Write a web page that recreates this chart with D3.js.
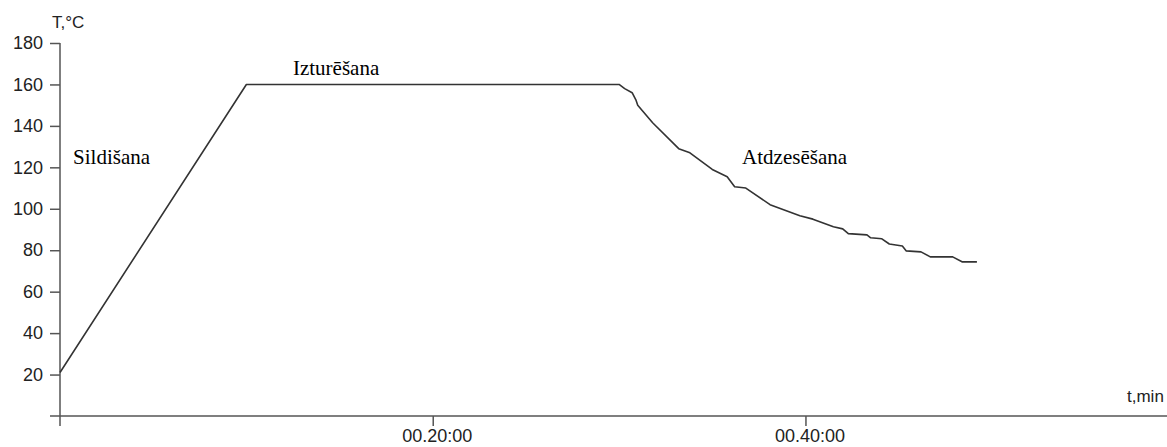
<!DOCTYPE html>
<html>
<head>
<meta charset="utf-8">
<script src="https://cdn.jsdelivr.net/npm/d3@7"></script>
<style>
  body { margin: 0; background: #fff; }
  svg { display: block; }
</style>
</head>
<body>
<div id="chart"></div>
<script>
// time in minutes, temperature in °C
var timeMin = [0, 10, 30, 30.3, 30.7, 30.9, 31.0, 31.8, 33.2, 33.8, 35.0, 35.8, 36.2, 36.8, 38.1,
               39.7, 40.4, 41.5, 42.0, 42.3, 43.3, 43.5, 44.1, 44.5, 45.2, 45.4, 46.2, 46.7, 47.9, 48.4, 49.2];
var tempC   = [21, 160, 160, 158, 156, 152.6, 150, 141.5, 129, 127, 119, 115.5, 110.6, 110, 102,
               96.6, 95, 91.3, 90.3, 88, 87.4, 86, 85.5, 83, 82, 79.7, 79.2, 76.8, 76.8, 74.4, 74.4];

var yTicks = [20, 40, 60, 80, 100, 120, 140, 160, 180];
var xTicks = [20, 40];
var xTickLabels = ["00.20:00", "00.40:00"];

var phaseNames = ["Sildišana", "Izturēšana", "Atdzesēšana"];
var phaseAt = [[0.7, 121.5], [12.5, 164.5], [36.6, 121.5]]; // [min, °C] anchor of each label

var width = 1167, height = 447;
var margin = {top: 43, right: 0, bottom: 31, left: 60};

var svg = d3.select("#chart").append("svg")
    .attr("width", width)
    .attr("height", height);

var x = d3.scaleLinear()
    .domain([0, 59.4])
    .range([margin.left, width - margin.right]);

var y = d3.scaleLinear()
    .domain([0, 180])
    .range([height - margin.bottom, margin.top]);

var axisColor = "#555";

// y axis
var yAxis = svg.append("g")
    .attr("transform", "translate(" + margin.left + ",0)")
    .call(d3.axisLeft(y).tickValues(yTicks).tickSize(10).tickPadding(7).tickSizeOuter(0));
yAxis.select(".domain").remove();
yAxis.append("line")
    .attr("x1", 0).attr("x2", 0)
    .attr("y1", y(180)).attr("y2", y(0) + 10)
    .attr("stroke", axisColor).attr("stroke-width", 1.5);
yAxis.selectAll(".tick line").attr("stroke", axisColor).attr("stroke-width", 1.5);
yAxis.selectAll(".tick text")
    .attr("fill", "#222")
    .style("font-family", "'Liberation Sans', Arial, sans-serif")
    .style("font-size", "18px");

// x axis
var xAxis = svg.append("g")
    .attr("transform", "translate(0," + y(0) + ")")
    .call(d3.axisBottom(x).tickValues(xTicks)
        .tickFormat(function(d, i) { return xTickLabels[i]; })
        .tickSize(10).tickPadding(3).tickSizeOuter(0));
xAxis.select(".domain").remove();
xAxis.append("line")
    .attr("x1", margin.left - 10).attr("x2", width)
    .attr("y1", 0).attr("y2", 0)
    .attr("stroke", axisColor).attr("stroke-width", 1.5);
xAxis.selectAll(".tick line").attr("stroke", axisColor).attr("stroke-width", 1.5);
xAxis.selectAll(".tick text")
    .attr("fill", "#222")
    .attr("dx", 4)
    .style("font-family", "'Liberation Sans', Arial, sans-serif")
    .style("font-size", "18px");

// axis titles
svg.append("text")
    .attr("x", 52).attr("y", 28)
    .attr("fill", "#222")
    .style("font-family", "'Liberation Sans', Arial, sans-serif")
    .style("font-size", "17px")
    .text("T,°C");

svg.append("text")
    .attr("x", 1127).attr("y", 402)
    .attr("fill", "#222")
    .style("font-family", "'Liberation Sans', Arial, sans-serif")
    .style("font-size", "17px")
    .text("t,min");

// temperature curve
var line = d3.line()
    .x(function(d, i) { return x(timeMin[i]); })
    .y(function(d) { return y(d); });

svg.append("path")
    .datum(tempC)
    .attr("d", line)
    .attr("fill", "none")
    .attr("stroke", "#333")
    .attr("stroke-width", 1.6)
    .attr("stroke-linejoin", "round");

// phase labels
svg.selectAll(".phase")
    .data(phaseNames)
    .enter().append("text")
    .attr("class", "phase")
    .attr("x", function(d, i) { return x(phaseAt[i][0]); })
    .attr("y", function(d, i) { return y(phaseAt[i][1]); })
    .attr("fill", "#000")
    .style("font-family", "'Liberation Serif', 'Times New Roman', serif")
    .style("font-size", "21px")
    .text(function(d) { return d; });
</script>
</body>
</html>
